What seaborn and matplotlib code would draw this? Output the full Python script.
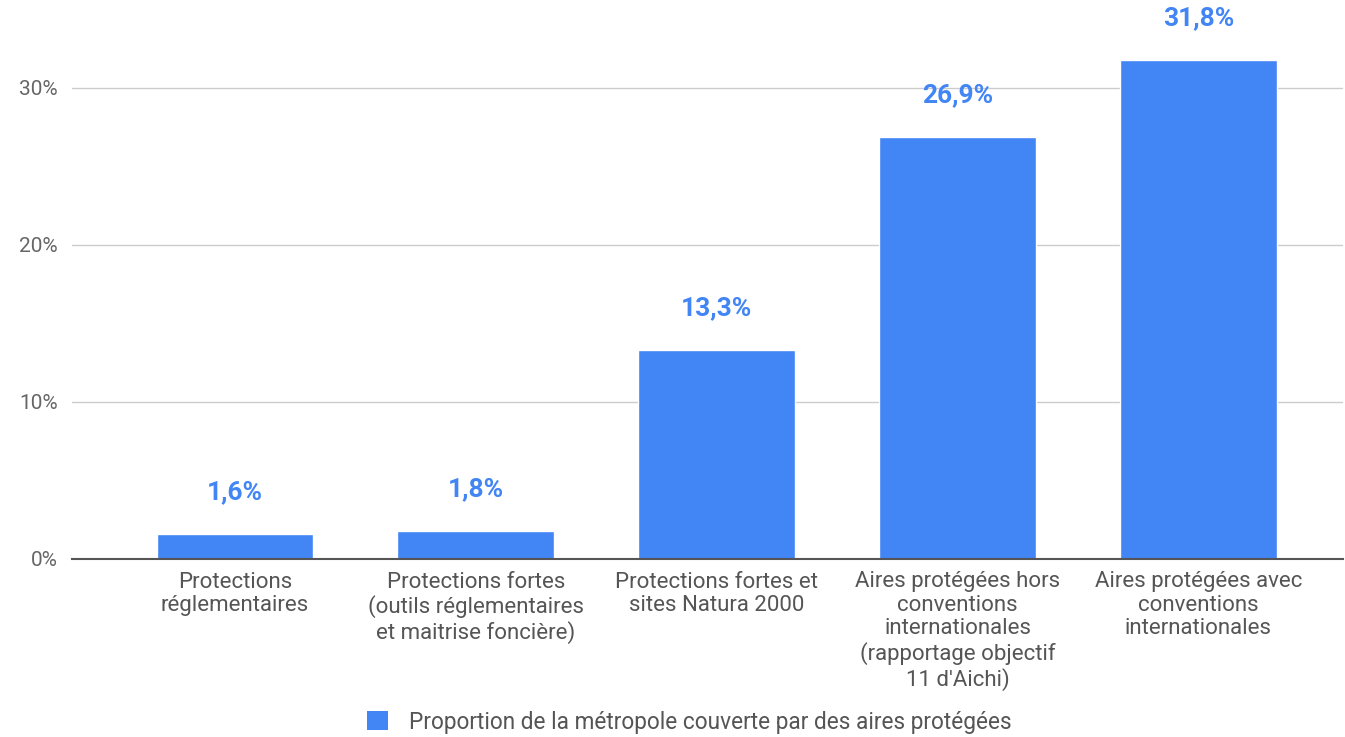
import matplotlib
matplotlib.use("Agg")
import matplotlib.pyplot as plt
import seaborn as sns
import pandas as pd
from matplotlib.patches import Patch

categories = [
    "Protections\nréglementaires",
    "Protections fortes\n(outils réglementaires\net maitrise foncière)",
    "Protections fortes et\nsites Natura 2000",
    "Aires protégées hors\nconventions\ninternationales\n(rapportage objectif\n11 d'Aichi)",
    "Aires protégées avec\nconventions\ninternationales",
]
values = [1.6, 1.8, 13.3, 26.9, 31.8]
value_labels = ["1,6%", "1,8%", "13,3%", "26,9%", "31,8%"]
y_ticks = [0, 10, 20, 30]
series_name = "Proportion de la métropole couverte par des aires protégées"

BLUE = "#4285F4"

sns.set_theme(style="white")
plt.rcParams["font.family"] = ["Roboto", "DejaVu Sans"]

df = pd.DataFrame({"cat": categories, "val": values})

fig = plt.figure(figsize=(13.45, 7.37), dpi=100)
ax = fig.add_axes([72 / 1345, (737 - 559) / 737, (1343 - 72) / 1345, 559 / 737])

sns.barplot(data=df, x="cat", y="val", color=BLUE, saturation=1, width=0.65, ax=ax)

ax.set_xlim(-0.676, 4.60)
ax.set_ylim(0, 35.6)
ax.set_yticks(y_ticks)
ax.set_yticklabels([f"{t}%" for t in y_ticks], color="#666666", fontsize=15)
ax.tick_params(axis="y", length=0, pad=10)
ax.tick_params(axis="x", length=0, pad=9)
ax.set_xticks(range(len(categories)))
ax.set_xticklabels(categories, color="#555555", fontsize=16, linespacing=1.15)
ax.set_xlabel("")
ax.set_ylabel("")

ax.grid(axis="y", color="#cccccc", linewidth=1)
ax.set_axisbelow(True)
for s in ["top", "right", "left"]:
    ax.spines[s].set_visible(False)
ax.spines["bottom"].set_color("#555555")
ax.spines["bottom"].set_linewidth(1.5)
ax.spines["bottom"].set_zorder(5)

for i, (v, lab) in enumerate(zip(values, value_labels)):
    ax.annotate(lab, xy=(i, v), xytext=(0, 30), textcoords="offset points",
                ha="center", va="center", color=BLUE, fontsize=19, fontweight="bold",
                annotation_clip=False)

fig.legend(handles=[Patch(facecolor=BLUE, edgecolor="none")], labels=[series_name],
           loc="center", bbox_to_anchor=(689 / 1345, 1 - 722 / 737), frameon=False,
           fontsize=16.3, handlelength=0.95, handleheight=0.95, handletextpad=0.9,
           labelcolor="#555555")

fig.savefig("out.png", dpi=100)
